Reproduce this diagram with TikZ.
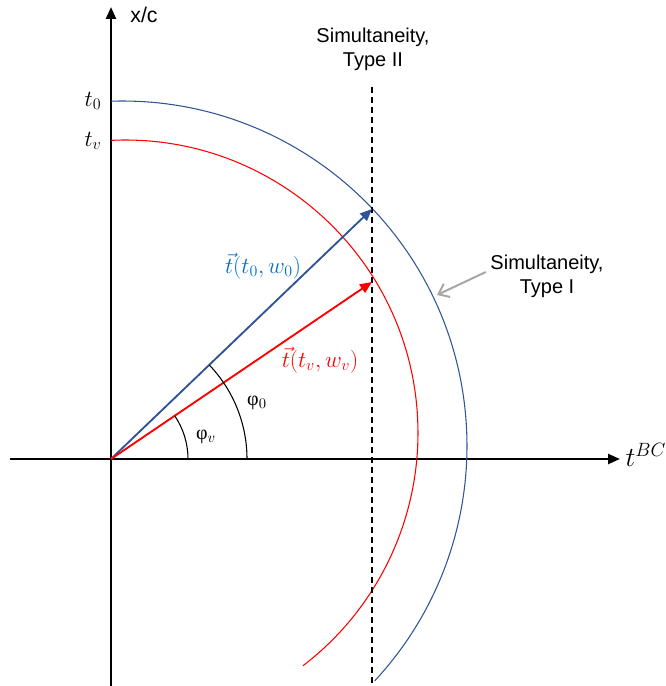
\documentclass[tikz,border=0pt]{standalone}
\usepackage{fontspec}
\setmainfont{Liberation Sans}
\newfontfamily\phifont{Liberation Serif}
\usetikzlibrary{arrows.meta}
\definecolor{arcblue}{RGB}{47,85,151}
\definecolor{labelblue}{RGB}{0,112,192}
\definecolor{pointergray}{RGB}{166,166,166}

\begin{document}
\begin{tikzpicture}[x=0.75pt, y=0.75pt,
  axis/.style={line width=1.8pt, -{Triangle[length=9pt,width=7.5pt]}},
  vec/.style={line width=1.4pt, -{Triangle[length=9pt,width=7.5pt]}},
  circ/.style={line width=0.8pt},
  sim/.style={align=center, font=\fontsize{15}{18}\selectfont},
  mlbl/.style={font=\fontsize{18.5}{20}\selectfont}]
\useasboundingbox (-111,-227) rectangle (555,459);

% Axes
\coordinate (xl) at (-101,0);
\coordinate (xr) at (509,0);
\coordinate (yb) at (0,-227);
\coordinate (yt) at (0,452);
\draw[axis] (xl) -- (xr);
\draw[axis] (yb) -- (yt);
\node[anchor=west, font=\fontsize{20}{22}\selectfont] (tBC) at (510,4) {$t^{BC}$};
\node[font=\fontsize{16}{18}\selectfont] (xc) at (33,444) {x/c};
\node[font=\fontsize{17}{19}\selectfont] (t0) at (-18,358) {$t_0$};
\node[font=\fontsize{17}{19}\selectfont] (tv) at (-18,318) {$t_v$};

% Circles
\coordinate (cb) at (11,13);
\coordinate (cr) at (14,26);
\draw[circ, arcblue] (cb) ++(91.8:345) arc[start angle=91.8, end angle=-42.9, radius=345];
\draw[circ, red] (cr) ++(92.7:293) arc[start angle=92.7, end angle=-52.6, radius=293];

% Simultaneity, Type II
\coordinate (dtop) at (261,372);
\coordinate (dbot) at (261,-227);
\draw[line width=1.4pt, dash pattern=on 4.5pt off 3pt] (dtop) -- (dbot);
\node[sim] (typeII) at (262,410) {Simultaneity,\\Type II};

% Vectors
\coordinate (O) at (0,0);
\coordinate (P0) at (261,250);
\coordinate (Pv) at (261,177);
\draw[vec, arcblue] (O) -- (P0);
\draw[vec, red] (O) -- (Pv);
\node[mlbl, labelblue] (lab0) at (152,193) {$\vec t(t_0,w_0)$};
\node[mlbl, red] (labv) at (209,99) {$\vec t(t_v,w_v)$};

% Angles
\draw[line width=0.8pt] (136,0) arc[start angle=0, end angle=43.8, radius=136];
\draw[line width=0.8pt] (77,0) arc[start angle=0, end angle=34.1, radius=77];
\node[font=\fontsize{15}{17}\selectfont] (phi0) at (146,56) {{\phifont φ}$_0$};
\node[font=\fontsize{15}{17}\selectfont] (phiv) at (95,22) {{\phifont φ}$_v$};

% Simultaneity, Type I
\node[sim] (typeI) at (436,183) {Simultaneity,\\Type I};
\coordinate (ptip) at (326,164);
\draw[pointergray, line width=1.5pt, -{Straight Barb[length=7pt,width=11pt]}] (typeI.west |- 0,187) -- (ptip);
\end{tikzpicture}
\end{document}
